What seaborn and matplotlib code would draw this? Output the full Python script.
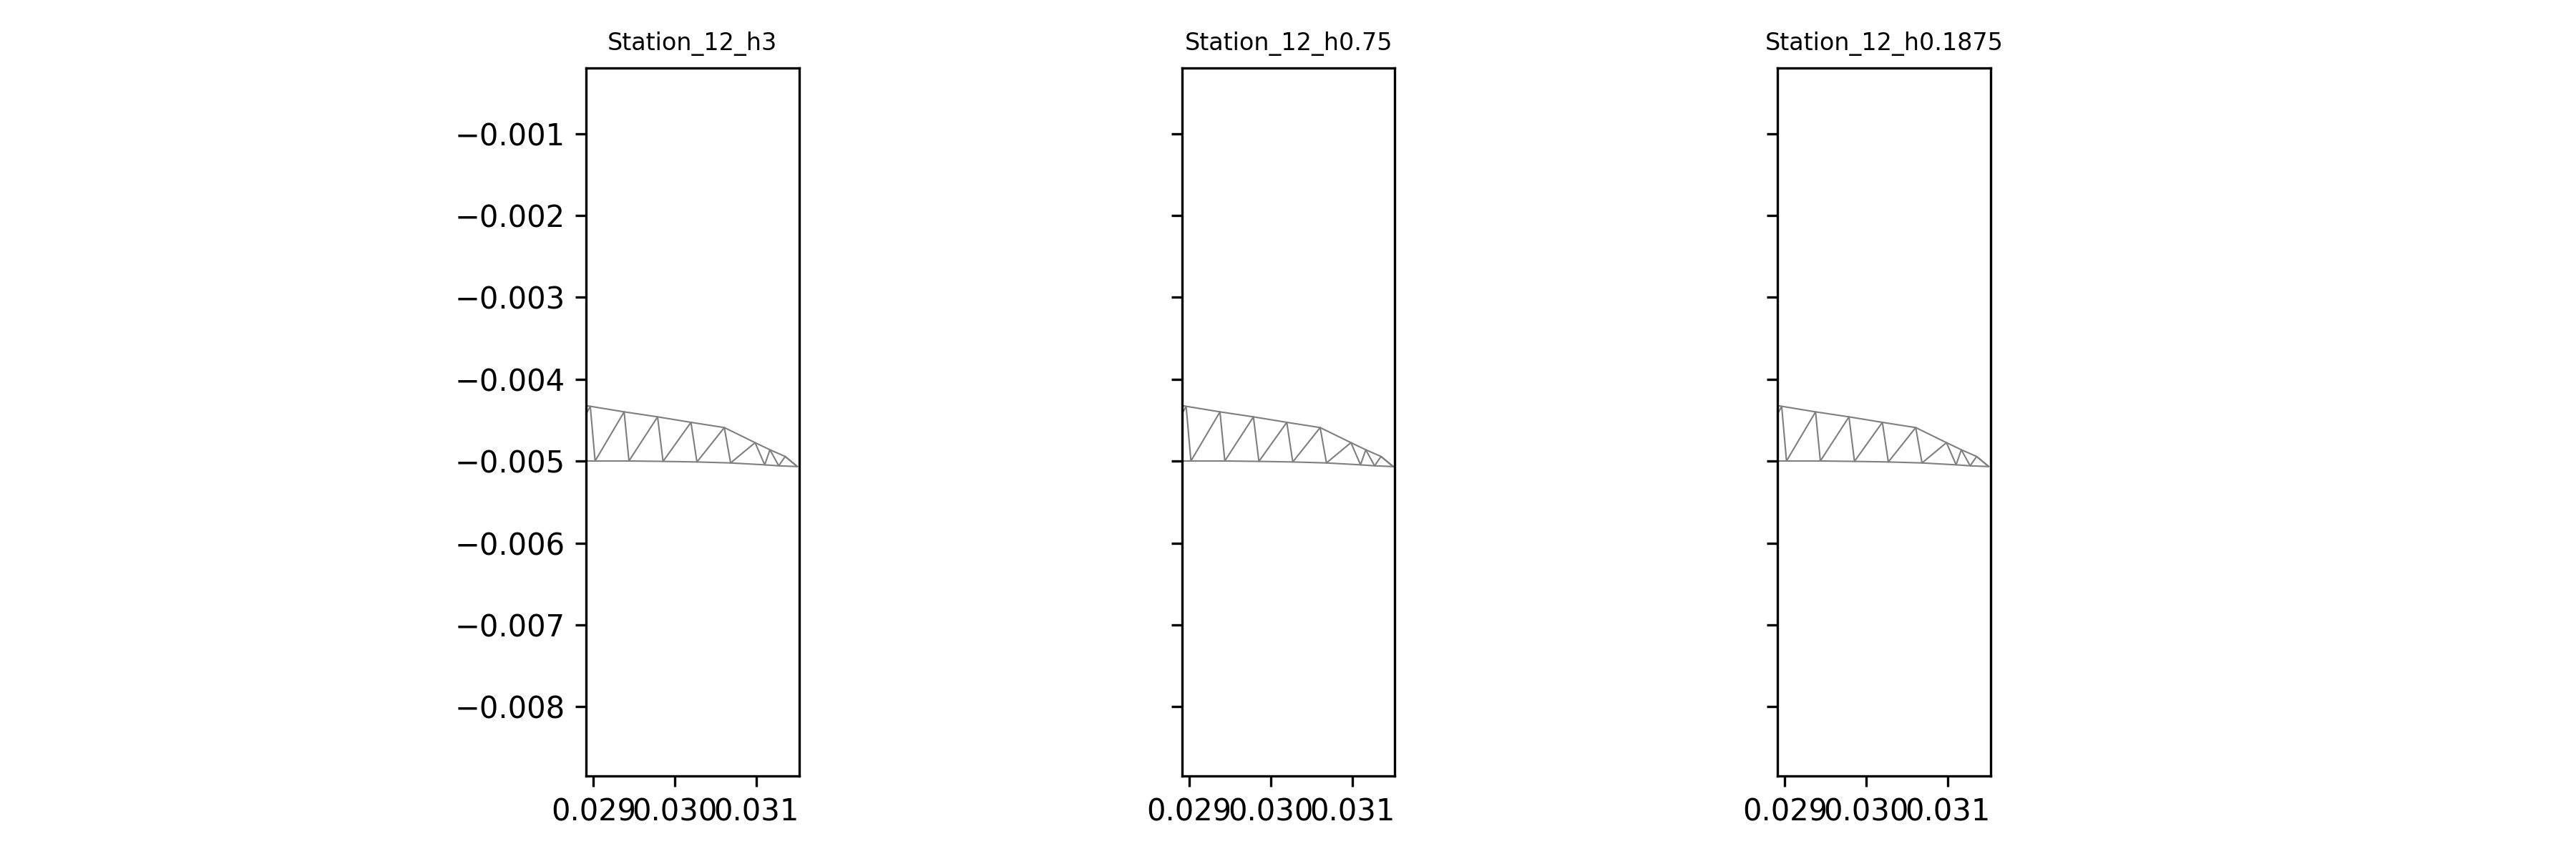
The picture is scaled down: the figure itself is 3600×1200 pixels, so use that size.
import numpy as np
import pandas as pd
import matplotlib
matplotlib.use("Agg")
import matplotlib.pyplot as plt
import seaborn as sns

# ---- data ----
titles = ["Station_12_h3", "Station_12_h0.75", "Station_12_h0.1875"]

# upper chord nodes (x, y)
top_x = [0.028541, 0.028962, 0.029377, 0.029787, 0.030196, 0.030605, 0.030982, 0.031164, 0.031351]
top_y = [-0.004264, -0.004330, -0.004398, -0.004459, -0.004526, -0.004590, -0.004774, -0.004861, -0.004943]
# lower chord nodes (x, y)
bot_x = [0.028603, 0.029021, 0.029436, 0.029854, 0.030269, 0.030682, 0.031100, 0.031272]
bot_y = [-0.004998, -0.004998, -0.004998, -0.005003, -0.005010, -0.005022, -0.005045, -0.005057]
# trailing-edge node
tip_x = [0.031500]
tip_y = [-0.005066]

x_ticks = [0.029, 0.030, 0.031]
y_ticks = [-0.001, -0.002, -0.003, -0.004, -0.005, -0.006, -0.007, -0.008]
x_limits = [0.02891, 0.031521]
y_limits = [-0.008848, -0.000198]

# ---- build mesh edges as polylines ----
rows = []
for xx, yy in zip(top_x + tip_x, top_y + tip_y):
    rows.append(("top", xx, yy))
for xx, yy in zip(bot_x + tip_x, bot_y + tip_y):
    rows.append(("bottom", xx, yy))
web = []
for i in range(len(bot_x)):
    web.append((top_x[i], top_y[i]))
    web.append((bot_x[i], bot_y[i]))
web.append((top_x[-1], top_y[-1]))
web.append((tip_x[0], tip_y[0]))
for xx, yy in web:
    rows.append(("web", xx, yy))
mesh = pd.DataFrame(rows, columns=["member", "x", "y"])

# ---- style ----
sns.set_style("ticks", rc={
    "axes.edgecolor": "black", "xtick.color": "black", "ytick.color": "black",
    "text.color": "black", "axes.labelcolor": "black",
    "xtick.direction": "out", "ytick.direction": "out",
})
plt.rcParams["font.family"] = ["DejaVu Sans"]
plt.rcParams["axes.linewidth"] = 0.8
plt.rcParams["xtick.major.size"] = 3.5
plt.rcParams["ytick.major.size"] = 3.5
plt.rcParams["xtick.major.width"] = 0.8
plt.rcParams["ytick.major.width"] = 0.8
plt.rcParams["xtick.labelsize"] = 10
plt.rcParams["ytick.labelsize"] = 10

fig, axes = plt.subplots(1, 3, figsize=(12, 4), dpi=300, sharey=True)

lefts = [819 / 3600, 1651.7 / 3600, 2484 / 3600]
width = 297.7 / 3600
bottom = 1 - 1084.3 / 1200
height = (1084.3 - 95) / 1200

for ax, title, left in zip(axes, titles, lefts):
    sns.lineplot(data=mesh, x="x", y="y", units="member", estimator=None,
                 sort=False, color="#7f7f7f", linewidth=0.5, ax=ax)
    ax.set_xlim(*x_limits)
    ax.set_ylim(*y_limits)
    ax.set_xticks(x_ticks)
    ax.set_yticks(y_ticks)
    ax.set_xlabel("")
    ax.set_ylabel("")
    ax.set_title(title, fontsize=8)
    for s in ax.spines.values():
        s.set_visible(True)
        s.set_linewidth(0.8)
        s.set_color("black")
    ax.set_position([left, bottom, width, height])

axes[1].tick_params(labelleft=False)
axes[2].tick_params(labelleft=False)

fig.savefig("out.png", dpi=300, facecolor="white")
